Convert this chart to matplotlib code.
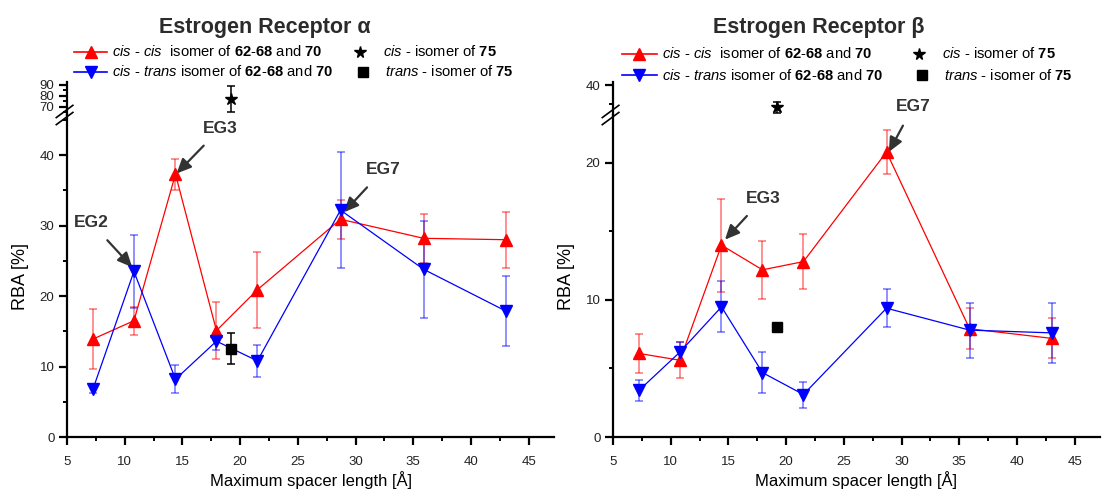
import matplotlib
matplotlib.use("Agg")
import matplotlib.pyplot as plt
from matplotlib.lines import Line2D
from matplotlib.ticker import MultipleLocator

plt.rcParams["font.family"] = ["Liberation Sans", "DejaVu Sans"]
plt.rcParams["mathtext.fontset"] = "custom"
plt.rcParams["mathtext.rm"] = "Liberation Sans"
plt.rcParams["mathtext.it"] = "Liberation Sans:italic"
plt.rcParams["mathtext.bf"] = "Liberation Sans:bold"

# Maximum spacer length [Å] of compounds 62-68 and 70
spacer = [7.25, 10.8, 14.4, 17.95, 21.5, 28.7, 35.9, 43.0]
spacer_75 = 19.2

# Estrogen receptor alpha, RBA [%]
era_cc = [13.9, 16.5, 37.3, 15.1, 20.9, 30.9, 28.2, 28.0]
era_cc_err = [4.2, 2.0, 2.2, 4.0, 5.4, 2.8, 3.5, 4.0]
era_ct = [6.8, 23.5, 8.2, 13.6, 10.8, 32.2, 23.8, 17.9]
era_ct_err = [0.5, 5.2, 2.0, 1.2, 2.3, 8.2, 6.9, 5.0]
era_cis75, era_cis75_err = 77.0, 12.0
era_trans75, era_trans75_err = 12.5, 2.2

# Estrogen receptor beta, RBA [%]
erb_cc = [6.1, 5.6, 14.0, 12.2, 12.8, 20.8, 7.9, 7.2]
erb_cc_err = [1.4, 1.3, 3.4, 2.1, 2.0, 1.6, 1.5, 1.45]
erb_ct = [3.4, 6.2, 9.5, 4.7, 3.1, 9.4, 7.8, 7.6]
erb_ct_err = [0.75, 0.7, 1.85, 1.5, 0.95, 1.4, 2.0, 2.2]
erb_cis75, erb_cis75_err = 34.0, 1.6
erb_trans75 = 8.0

x_ticks = [5, 10, 15, 20, 25, 30, 35, 40, 45]

W, H = 1102, 493
fig = plt.figure(figsize=(W / 100, H / 100), dpi=100)

RED = "#ff0000"
BLUE = "#0000ff"
RED_E = (1, 0, 0, 0.55)
BLUE_E = (0, 0, 1, 0.55)
DARK = "#333333"


def box(x0, y_top, y_bot, w=487):
    return [x0 / W, 1 - y_bot / H, w / W, (y_bot - y_top) / H]


def style_lower(ax, ylim, major, minor):
    ax.set_xlim(5, 47.2)
    ax.set_ylim(*ylim)
    for s in ("top", "right"):
        ax.spines[s].set_visible(False)
    for s in ("left", "bottom"):
        ax.spines[s].set_linewidth(1.6)
    ax.set_xticks(x_ticks)
    ax.xaxis.set_minor_locator(MultipleLocator(2.5))
    ax.yaxis.set_major_locator(MultipleLocator(major))
    ax.yaxis.set_minor_locator(MultipleLocator(minor))
    ax.tick_params(which="major", length=6, width=1.6, labelsize=9.5,
                   labelcolor="#222222", pad=3)
    ax.tick_params(axis="x", which="major", pad=8)
    ax.tick_params(which="minor", length=3, width=1.4)
    ax.set_xlabel("Maximum spacer length [Å]", fontsize=12, labelpad=2)
    ax.set_ylabel("RBA [%]", fontsize=13, labelpad=8)


def style_upper(ax, ylim, major, minor):
    ax.set_xlim(5, 47.2)
    ax.set_ylim(*ylim)
    for s in ("top", "right", "bottom"):
        ax.spines[s].set_visible(False)
    ax.spines["left"].set_linewidth(1.6)
    ax.set_xticks([])
    ax.yaxis.set_major_locator(MultipleLocator(major))
    ax.yaxis.set_minor_locator(MultipleLocator(minor))
    ax.tick_params(which="major", length=6, width=1.6, labelsize=9.5,
                   labelcolor="#222222", pad=3)
    ax.tick_params(which="minor", length=3, width=1.4)
    ax.patch.set_alpha(0)


def break_marks(ax):
    kw = dict(transform=ax.transAxes, color="black", lw=1.2, clip_on=False)
    for dy in (0.0, -0.022):
        ax.plot([-0.022, 0.012], [0.992 + dy, 1.03 + dy], **kw)


def series(ax, y, e, marker, color, ecolor):
    ax.errorbar(spacer, y, yerr=e, fmt="-" + marker, color=color, ecolor=ecolor,
                elinewidth=1.1, capsize=3, capthick=1.1, ms=8, lw=0.9, zorder=3)


def rich_legend(x_handle, x_text, x_sym, x_text2, y1, y2):
    fy = lambda py: 1 - py / H
    for py, mk, col in ((y1, "^", RED), (y2, "v", BLUE)):
        fig.add_artist(Line2D([x_handle[0] / W, x_handle[1] / W], [fy(py), fy(py)],
                              color=col, lw=1.2, marker=None))
        fig.add_artist(Line2D([(x_handle[0] + x_handle[1]) / 2 / W], [fy(py)],
                              color=col, marker=mk, ms=8, ls="none"))
    fs = 10.6
    fig.text(x_text / W, fy(y1),
             r"$\mathit{cis}$ - $\mathit{cis}$  isomer of $\mathbf{62}$-$\mathbf{68}$ and $\mathbf{70}$",
             fontsize=fs, va="center", ha="left")
    fig.text(x_text / W, fy(y2),
             r"$\mathit{cis}$ - $\mathit{trans}$ isomer of $\mathbf{62}$-$\mathbf{68}$ and $\mathbf{70}$",
             fontsize=fs, va="center", ha="left")
    fig.add_artist(Line2D([x_sym / W], [fy(y1)], color="black", marker="*", ms=8.5, ls="none"))
    fig.add_artist(Line2D([(x_sym + 3) / W], [fy(y2)], color="black", marker="s", ms=6.5, ls="none"))
    fig.text(x_text2 / W, fy(y1), r"$\mathit{cis}$ - isomer of $\mathbf{75}$",
             fontsize=fs, va="center", ha="left")
    fig.text((x_text2 + 2) / W, fy(y2), r"$\mathit{trans}$ - isomer of $\mathbf{75}$",
             fontsize=fs, va="center", ha="left")


def arrow_note(ax, label, tip, txt):
    ax.annotate(label, xy=tip, xytext=txt, fontsize=12.5, fontweight="bold",
                color=DARK, ha="center", va="center", annotation_clip=False,
                arrowprops=dict(arrowstyle="-|>,head_length=0.7,head_width=0.32",
                                color=DARK, lw=1.6, shrinkA=7, shrinkB=0))


# ---------------- Estrogen receptor alpha ----------------
axa = fig.add_axes(box(67, 115, 437))
axa_up = fig.add_axes(box(67, 82, 115))
style_lower(axa, (0, 45.7), 10, 5)
style_upper(axa_up, (62.3, 92.3), 10, 5)

series(axa, era_cc, era_cc_err, "^", RED, RED_E)
series(axa, era_ct, era_ct_err, "v", BLUE, BLUE_E)
axa.errorbar([spacer_75], [era_trans75], yerr=[era_trans75_err], fmt="s", color="black",
             ms=6.5, capsize=3, elinewidth=1.1, capthick=1.1, zorder=4)
axa_up.errorbar([spacer_75], [era_cis75], yerr=[era_cis75_err], fmt="*", color="black",
                ms=9, capsize=3, elinewidth=1.1, capthick=1.1, zorder=4)
break_marks(axa)

arrow_note(axa, "EG2", (10.65, 24.1), (7.1, 30.4))
arrow_note(axa, "EG3", (14.5, 37.4), (18.3, 43.8))
arrow_note(axa, "EG7", (29.0, 31.9), (32.4, 37.9))

fig.text(265 / W, 1 - 27 / H, "Estrogen Receptor α", fontsize=15.5, fontweight="bold",
         color="#2b2b2b", ha="center", va="center")
rich_legend((74, 107), 112, 360, 383, 52, 72)

# ---------------- Estrogen receptor beta ----------------
axb = fig.add_axes(box(613, 115, 437))
axb_up = fig.add_axes(box(613, 82, 115))
style_lower(axb, (0, 23.5), 10, 5)
style_upper(axb_up, (31.9, 40.96), 5, 5)
axb_up.yaxis.set_major_locator(MultipleLocator(40))
axb_up.set_ylim(31.9, 40.96)

series(axb, erb_cc, erb_cc_err, "^", RED, RED_E)
series(axb, erb_ct, erb_ct_err, "v", BLUE, BLUE_E)
axb.plot([spacer_75], [erb_trans75], "s", color="black", ms=6.5, zorder=4)
axb_up.errorbar([spacer_75], [erb_cis75], yerr=[erb_cis75_err], fmt="*", color="black",
                ms=9, capsize=3, elinewidth=1.1, capthick=1.1, zorder=4)
break_marks(axb)

arrow_note(axb, "EG3", (14.7, 14.4), (18.0, 17.4))
arrow_note(axb, "EG7", (28.9, 20.8), (31.0, 24.1))

fig.text(819 / W, 1 - 27 / H, "Estrogen Receptor β", fontsize=15.5, fontweight="bold",
         color="#2b2b2b", ha="center", va="center")
rich_legend((622, 657), 662, 919, 942, 54, 75)

fig.savefig("out.png", dpi=100)
